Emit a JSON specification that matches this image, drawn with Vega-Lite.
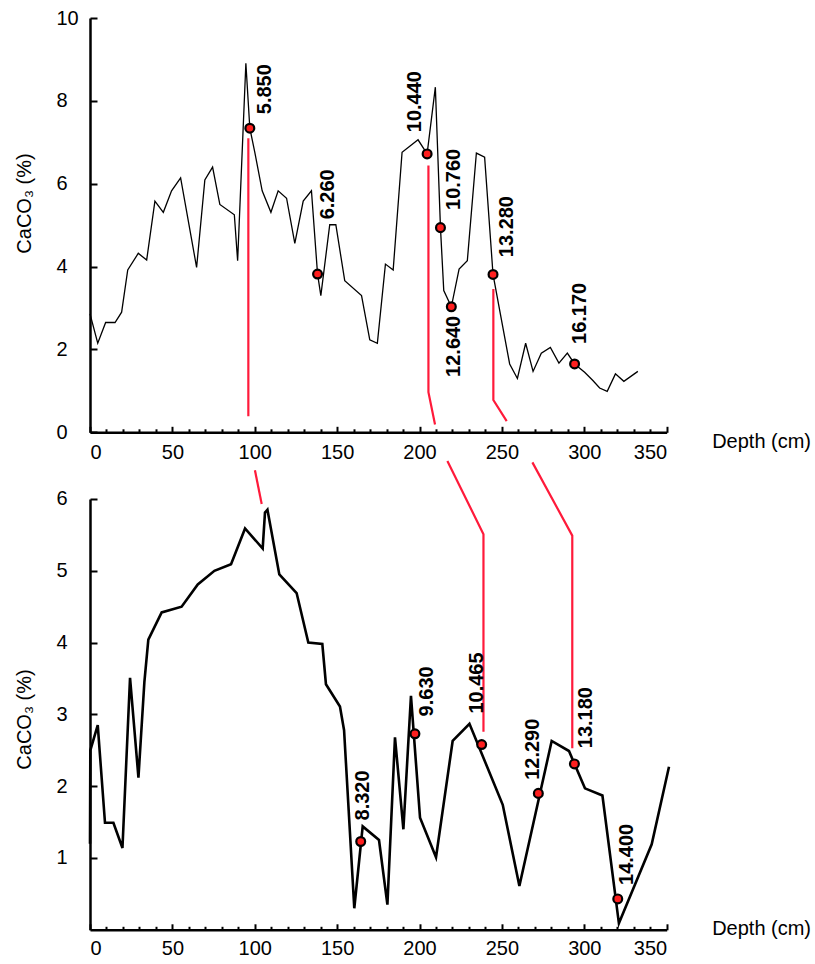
{
  "$schema": "https://vega.github.io/schema/vega-lite/v6.json",
  "background": "white",
  "padding": {"left": 15, "top": 8, "right": 5, "bottom": 5},
  "bounds": "flush",
  "spacing": 66,
  "config": {
    "view": {"stroke": null},
    "font": "Liberation Sans",
    "axis": {
      "grid": false,
      "domainColor": "black",
      "domainWidth": 2.5,
      "tickColor": "black",
      "tickWidth": 2,
      "labelColor": "black",
      "titleColor": "black",
      "labelFont": "Liberation Sans",
      "titleFont": "Liberation Sans",
      "labelFontSize": 20,
      "titleFontSize": 20,
      "titleFontWeight": "normal"
    }
  },
  "datasets": {
    "topLine": [
      {"x":0,"y":2.86},{"x":4.7,"y":2.15},{"x":9.5,"y":2.65},{"x":15.2,"y":2.65},{"x":19.2,"y":2.9},{"x":22.9,"y":3.92},{"x":29.3,"y":4.32},{"x":34.4,"y":4.16},{"x":39.4,"y":5.58},{"x":44.5,"y":5.31},{"x":49.5,"y":5.83},{"x":55,"y":6.14},{"x":64.7,"y":3.98},{"x":69.7,"y":6.09},{"x":74.4,"y":6.4},{"x":78.8,"y":5.5},{"x":87.6,"y":5.25},{"x":89.6,"y":4.14},{"x":94.6,"y":8.91},{"x":97,"y":7.34},{"x":100,"y":6.76},{"x":104.5,"y":5.83},{"x":109.8,"y":5.31},{"x":114.2,"y":5.83},{"x":119.3,"y":5.65},{"x":124.3,"y":4.56},{"x":129.4,"y":5.58},{"x":134.4,"y":5.83},{"x":138.1,"y":3.82},{"x":140.1,"y":3.3},{"x":145.5,"y":5.01},{"x":149.2,"y":5.01},{"x":154.6,"y":3.66},{"x":164.8,"y":3.3},{"x":169.8,"y":2.23},{"x":174.4,"y":2.15},{"x":179.3,"y":4.06},{"x":184,"y":3.92},{"x":189.4,"y":6.76},{"x":199.1,"y":7.06},{"x":204.6,"y":6.72},{"x":209.6,"y":8.33},{"x":212.7,"y":4.94},{"x":214.7,"y":3.42},{"x":219.3,"y":3.03},{"x":224,"y":3.94},{"x":229,"y":4.14},{"x":234.5,"y":6.74},{"x":239.5,"y":6.64},{"x":244.6,"y":3.81},{"x":254.7,"y":1.65},{"x":259.4,"y":1.3},{"x":264.4,"y":2.15},{"x":268.9,"y":1.47},{"x":273.9,"y":1.91},{"x":279.4,"y":2.05},{"x":284.6,"y":1.67},{"x":289.7,"y":1.91},{"x":294.1,"y":1.65},{"x":300.2,"y":1.45},{"x":305.2,"y":1.25},{"x":309.3,"y":1.07},{"x":313.9,"y":0.99},{"x":318.9,"y":1.41},{"x":324,"y":1.23},{"x":332.5,"y":1.47}
    ],
    "topMarks": [
      {"x":97,"y":7.34,"label":"5.850"},
      {"x":138.1,"y":3.82,"label":"6.260"},
      {"x":204.6,"y":6.72,"label":"10.440"},
      {"x":212.7,"y":4.94,"label":"10.760"},
      {"x":219.3,"y":3.03,"label":"12.640"},
      {"x":244.6,"y":3.81,"label":"13.280"},
      {"x":294.1,"y":1.65,"label":"16.170"}
    ],
    "topRed": [
      {"id":"a","k":1,"x":96.1,"y":7.1},{"id":"a","k":2,"x":96.1,"y":0.39},
      {"id":"b","k":1,"x":205.4,"y":6.44},{"id":"b","k":2,"x":205.4,"y":0.97},{"id":"b","k":3,"x":209.4,"y":0.19},
      {"id":"c","k":1,"x":244.8,"y":3.46},{"id":"c","k":2,"x":244.8,"y":0.78},{"id":"c","k":3,"x":252.9,"y":0.27}
    ],
    "botLine": [
      {"x":0,"y":1.2},{"x":0.2,"y":2.5},{"x":4.7,"y":2.85},{"x":9.1,"y":1.49},{"x":14.2,"y":1.49},{"x":19.7,"y":1.14},{"x":24.3,"y":3.51},{"x":29.4,"y":2.12},{"x":33,"y":3.45},{"x":35.4,"y":4.04},{"x":43.5,"y":4.42},{"x":55.6,"y":4.5},{"x":65.4,"y":4.81},{"x":75.5,"y":5},{"x":85.6,"y":5.09},{"x":94.1,"y":5.59},{"x":104.8,"y":5.31},{"x":106.2,"y":5.81},{"x":107.7,"y":5.85},{"x":114.9,"y":4.95},{"x":125.4,"y":4.69},{"x":132.5,"y":4},{"x":141,"y":3.98},{"x":143.2,"y":3.42},{"x":151.7,"y":3.11},{"x":154.2,"y":2.78},{"x":160.4,"y":0.3},{"x":165.5,"y":1.44},{"x":175.4,"y":1.25},{"x":180.5,"y":0.35},{"x":185.1,"y":2.68},{"x":190.2,"y":1.4},{"x":194.8,"y":3.26},{"x":200.3,"y":1.56},{"x":210,"y":1.01},{"x":220.1,"y":2.63},{"x":230.3,"y":2.87},{"x":250.5,"y":1.74},{"x":260.6,"y":0.61},{"x":280.2,"y":2.63},{"x":290.7,"y":2.49},{"x":300.4,"y":1.97},{"x":311,"y":1.87},{"x":321,"y":0.09},{"x":340.9,"y":1.19},{"x":351.4,"y":2.27}
    ],
    "botMarks": [
      {"x":164.3,"y":1.23,"label":"8.320"},
      {"x":197.2,"y":2.73,"label":"9.630"},
      {"x":237.7,"y":2.58,"label":"10.465"},
      {"x":272.1,"y":1.9,"label":"12.290"},
      {"x":294,"y":2.31,"label":"13.180"},
      {"x":320.3,"y":0.43,"label":"14.400"}
    ],
    "botRed": [
      {"id":"a","k":1,"x":100.1,"y":6.4},{"id":"a","k":2,"x":104.2,"y":5.93},
      {"id":"b","k":1,"x":216.9,"y":6.53},{"id":"b","k":2,"x":238.8,"y":5.51},{"id":"b","k":3,"x":238.8,"y":2.76},
      {"id":"c","k":1,"x":268.5,"y":6.51},{"id":"c","k":2,"x":292.7,"y":5.49},{"id":"c","k":3,"x":292.7,"y":2.53}
    ]
  },
  "vconcat": [
    {
      "width": 576.7,
      "height": 414.3,
      "resolve": {"axis": {"x": "independent"}},
      "layer": [
        {
          "data": {"name": "topLine"},
          "mark": {"type": "line", "color": "black", "strokeWidth": 1.3},
          "encoding": {
            "x": {"field": "x", "type": "quantitative", "scale": {"domain": [0, 350], "nice": false},
              "axis": {"orient": "bottom", "values": [0,50,100,150,200,250,300,350], "tickSize": -6, "labelPadding": 16, "labelDx": 2, "title": "Depth (cm)", "titleX": 621.7, "titleY": 15, "titleAlign": "left", "titleBaseline": "alphabetic", "titleAnchor": "start"}},
            "y": {"field": "y", "type": "quantitative", "scale": {"domain": [0, 10], "nice": false},
              "axis": {"values": [0,2,4,6,8,10], "tickSize": -7, "labelAlign": "left", "labelPadding": 41, "title": "CaCO₃ (%)", "titleX": -55, "titleY": 185, "titleAngle": -90, "titleBaseline": "bottom", "titleAlign": "center"}}
          }
        },
        {
          "data": {"name": "topRed"},
          "mark": {"type": "line", "color": "#ff1a3a", "strokeWidth": 2.2},
          "encoding": {
            "x": {"field": "x", "type": "quantitative", "axis": {"orient": "bottom", "values": [10,20,30,40,60,70,80,90,110,120,130,140,160,170,180,190,210,220,230,240,260,270,280,290,310,320,330,340], "tickSize": -3.5, "labels": false, "domain": false, "title": null}},
            "y": {"field": "y", "type": "quantitative"},
            "detail": {"field": "id"},
            "order": {"field": "k"}
          }
        },
        {
          "data": {"name": "topMarks"},
          "mark": {"type": "point", "filled": true, "fill": "#ff1f1f", "stroke": "black", "strokeWidth": 2.2, "size": 78, "opacity": 1},
          "encoding": {
            "x": {"field": "x", "type": "quantitative", "axis": null},
            "y": {"field": "y", "type": "quantitative"}
          }
        },
        {"data": {"name": "topMarks"}, "transform": [{"filter": "datum.label == '5.850'"}], "mark": {"type": "text", "angle": 270, "align": "left", "baseline": "alphabetic", "dx": 14, "dy": 21, "fontSize": 20, "fontWeight": "bold", "font": "Liberation Sans", "color": "black"}, "encoding": {"x": {"field": "x", "type": "quantitative", "axis": null}, "y": {"field": "y", "type": "quantitative"}, "text": {"field": "label"}}},
        {"data": {"name": "topMarks"}, "transform": [{"filter": "datum.label == '6.260'"}], "mark": {"type": "text", "angle": 270, "align": "left", "baseline": "alphabetic", "dx": 54.7, "dy": 16.7, "fontSize": 20, "fontWeight": "bold", "font": "Liberation Sans", "color": "black"}, "encoding": {"x": {"field": "x", "type": "quantitative", "axis": null}, "y": {"field": "y", "type": "quantitative"}, "text": {"field": "label"}}},
        {"data": {"name": "topMarks"}, "transform": [{"filter": "datum.label == '10.440'"}], "mark": {"type": "text", "angle": 270, "align": "left", "baseline": "alphabetic", "dx": 21.7, "dy": -5.7, "fontSize": 20, "fontWeight": "bold", "font": "Liberation Sans", "color": "black"}, "encoding": {"x": {"field": "x", "type": "quantitative", "axis": null}, "y": {"field": "y", "type": "quantitative"}, "text": {"field": "label"}}},
        {"data": {"name": "topMarks"}, "transform": [{"filter": "datum.label == '10.760'"}], "mark": {"type": "text", "angle": 270, "align": "left", "baseline": "alphabetic", "dx": 17.7, "dy": 19.3, "fontSize": 20, "fontWeight": "bold", "font": "Liberation Sans", "color": "black"}, "encoding": {"x": {"field": "x", "type": "quantitative", "axis": null}, "y": {"field": "y", "type": "quantitative"}, "text": {"field": "label"}}},
        {"data": {"name": "topMarks"}, "transform": [{"filter": "datum.label == '12.640'"}], "mark": {"type": "text", "angle": 270, "align": "right", "baseline": "alphabetic", "dx": -9, "dy": 8.3, "fontSize": 20, "fontWeight": "bold", "font": "Liberation Sans", "color": "black"}, "encoding": {"x": {"field": "x", "type": "quantitative", "axis": null}, "y": {"field": "y", "type": "quantitative"}, "text": {"field": "label"}}},
        {"data": {"name": "topMarks"}, "transform": [{"filter": "datum.label == '13.280'"}], "mark": {"type": "text", "angle": 270, "align": "left", "baseline": "alphabetic", "dx": 17.3, "dy": 20, "fontSize": 20, "fontWeight": "bold", "font": "Liberation Sans", "color": "black"}, "encoding": {"x": {"field": "x", "type": "quantitative", "axis": null}, "y": {"field": "y", "type": "quantitative"}, "text": {"field": "label"}}},
        {"data": {"name": "topMarks"}, "transform": [{"filter": "datum.label == '16.170'"}], "mark": {"type": "text", "angle": 270, "align": "left", "baseline": "alphabetic", "dx": 20, "dy": 11.7, "fontSize": 20, "fontWeight": "bold", "font": "Liberation Sans", "color": "black"}, "encoding": {"x": {"field": "x", "type": "quantitative", "axis": null}, "y": {"field": "y", "type": "quantitative"}, "text": {"field": "label"}}},
        {
          "mark": {"type": "text", "text": "V34-98", "align": "left", "baseline": "alphabetic", "fontSize": 29, "fontWeight": "bold", "font": "Liberation Sans", "color": "black"},
          "encoding": {"x": {"datum": 309.3, "type": "quantitative", "axis": null}, "y": {"datum": 8.99, "type": "quantitative"}}
        }
      ]
    },
    {
      "width": 576.7,
      "height": 430.8,
      "resolve": {"axis": {"x": "independent"}},
      "layer": [
        {
          "data": {"name": "botLine"},
          "mark": {"type": "line", "color": "black", "strokeWidth": 2.6},
          "encoding": {
            "x": {"field": "x", "type": "quantitative", "scale": {"domain": [0, 350], "nice": false},
              "axis": {"orient": "bottom", "values": [0,50,100,150,200,250,300,350], "tickSize": -6, "labelPadding": 15, "labelDx": 2, "title": "Depth (cm)", "titleX": 621.7, "titleY": 4.5, "titleAlign": "left", "titleBaseline": "alphabetic", "titleAnchor": "start"}},
            "y": {"field": "y", "type": "quantitative", "scale": {"domain": [0, 6], "nice": false},
              "axis": {"values": [1,2,3,4,5,6], "format": "d", "tickSize": -7, "labelAlign": "left", "labelPadding": 41, "title": "CaCO₃ (%)", "titleX": -55, "titleY": 220, "titleAngle": -90, "titleBaseline": "bottom", "titleAlign": "center"}}
          }
        },
        {
          "data": {"name": "botRed"},
          "mark": {"type": "line", "color": "#ff1a3a", "strokeWidth": 2.2},
          "encoding": {
            "x": {"field": "x", "type": "quantitative", "axis": {"orient": "bottom", "values": [10,20,30,40,60,70,80,90,110,120,130,140,160,170,180,190,210,220,230,240,260,270,280,290,310,320,330,340], "tickSize": -3.5, "labels": false, "domain": false, "title": null}},
            "y": {"field": "y", "type": "quantitative"},
            "detail": {"field": "id"},
            "order": {"field": "k"}
          }
        },
        {
          "data": {"name": "botMarks"},
          "mark": {"type": "point", "filled": true, "fill": "#ff1f1f", "stroke": "black", "strokeWidth": 2.2, "size": 78, "opacity": 1},
          "encoding": {
            "x": {"field": "x", "type": "quantitative", "axis": null},
            "y": {"field": "y", "type": "quantitative"}
          }
        },
        {"data": {"name": "botMarks"}, "transform": [{"filter": "datum.label == '8.320'"}], "mark": {"type": "text", "angle": 270, "align": "left", "baseline": "alphabetic", "dx": 21, "dy": 8.3, "fontSize": 20, "fontWeight": "bold", "font": "Liberation Sans", "color": "black"}, "encoding": {"x": {"field": "x", "type": "quantitative", "axis": null}, "y": {"field": "y", "type": "quantitative"}, "text": {"field": "label"}}},
        {"data": {"name": "botMarks"}, "transform": [{"filter": "datum.label == '9.630'"}], "mark": {"type": "text", "angle": 270, "align": "left", "baseline": "alphabetic", "dx": 17.4, "dy": 18.4, "fontSize": 20, "fontWeight": "bold", "font": "Liberation Sans", "color": "black"}, "encoding": {"x": {"field": "x", "type": "quantitative", "axis": null}, "y": {"field": "y", "type": "quantitative"}, "text": {"field": "label"}}},
        {"data": {"name": "botMarks"}, "transform": [{"filter": "datum.label == '10.465'"}], "mark": {"type": "text", "angle": 270, "align": "left", "baseline": "alphabetic", "dx": 31, "dy": 1.7, "fontSize": 20, "fontWeight": "bold", "font": "Liberation Sans", "color": "black"}, "encoding": {"x": {"field": "x", "type": "quantitative", "axis": null}, "y": {"field": "y", "type": "quantitative"}, "text": {"field": "label"}}},
        {"data": {"name": "botMarks"}, "transform": [{"filter": "datum.label == '12.290'"}], "mark": {"type": "text", "angle": 270, "align": "left", "baseline": "alphabetic", "dx": 13.6, "dy": 1, "fontSize": 20, "fontWeight": "bold", "font": "Liberation Sans", "color": "black"}, "encoding": {"x": {"field": "x", "type": "quantitative", "axis": null}, "y": {"field": "y", "type": "quantitative"}, "text": {"field": "label"}}},
        {"data": {"name": "botMarks"}, "transform": [{"filter": "datum.label == '13.180'"}], "mark": {"type": "text", "angle": 270, "align": "left", "baseline": "alphabetic", "dx": 15.7, "dy": 18, "fontSize": 20, "fontWeight": "bold", "font": "Liberation Sans", "color": "black"}, "encoding": {"x": {"field": "x", "type": "quantitative", "axis": null}, "y": {"field": "y", "type": "quantitative"}, "text": {"field": "label"}}},
        {"data": {"name": "botMarks"}, "transform": [{"filter": "datum.label == '14.400'"}], "mark": {"type": "text", "angle": 270, "align": "left", "baseline": "alphabetic", "dx": 14, "dy": 15.7, "fontSize": 20, "fontWeight": "bold", "font": "Liberation Sans", "color": "black"}, "encoding": {"x": {"field": "x", "type": "quantitative", "axis": null}, "y": {"field": "y", "type": "quantitative"}, "text": {"field": "label"}}},
        {
          "mark": {"type": "text", "text": "LV29-114-3", "align": "left", "baseline": "alphabetic", "fontSize": 29, "fontWeight": "bold", "font": "Liberation Sans", "color": "black"},
          "encoding": {"x": {"datum": 309.9, "type": "quantitative", "axis": null}, "y": {"datum": 5.58, "type": "quantitative"}}
        }
      ]
    }
  ]
}
